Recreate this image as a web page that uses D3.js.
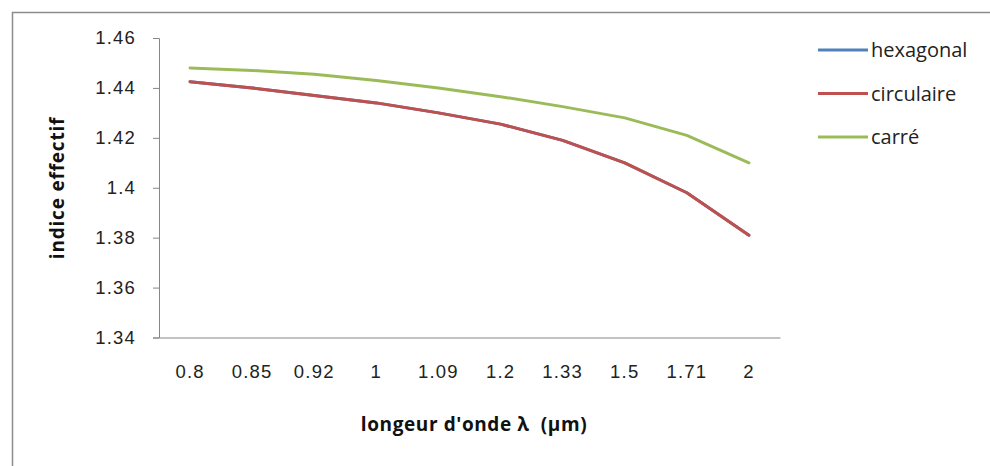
<!DOCTYPE html>
<html>
<head>
<meta charset="utf-8">
<script src="https://cdn.jsdelivr.net/npm/d3@7"></script>
<style>
  html, body { margin: 0; padding: 0; background: #fff; }
  svg { display: block; }
</style>
</head>
<body>
<svg id="chart" width="990" height="466"></svg>
<script>
// Wavelengths (µm) shown as category labels
const categories = ["0.8", "0.85", "0.92", "1", "1.09", "1.2", "1.33", "1.5", "1.71", "2"];
// Effective index per fibre geometry
const hexagonal  = [1.4425, 1.440, 1.437, 1.434, 1.430, 1.4255, 1.419, 1.410, 1.398, 1.381];
const circulaire = [1.4425, 1.440, 1.437, 1.434, 1.430, 1.4255, 1.419, 1.410, 1.398, 1.381];
const carre      = [1.448, 1.447, 1.4455, 1.443, 1.440, 1.4365, 1.4325, 1.428, 1.421, 1.410];
const seriesNames = ["hexagonal", "circulaire", "carré"];
const yTicks = [1.34, 1.36, 1.38, 1.40, 1.42, 1.44, 1.46];

const series = [
  { name: seriesNames[0], values: hexagonal,  color: "#4F81BD" },
  { name: seriesNames[1], values: circulaire, color: "#C0504D" },
  { name: seriesNames[2], values: carre,      color: "#9BBB59" }
];

const svg = d3.select("#chart");
const plot = { left: 159, right: 780, top: 38, bottom: 337.5 };

// outer chart frame
svg.append("path")
  .attr("d", "M12.5,466 L12.5,12.5 L990,12.5")
  .attr("fill", "none")
  .attr("stroke", "#8c8c8c")
  .attr("stroke-width", 1.5);

const x = d3.scaleBand().domain(categories).range([plot.left, plot.right]);
const y = d3.scaleLinear().domain([1.34, 1.46]).range([plot.bottom, plot.top]);

const tickFont = sel => sel
  .attr("font-family", "Liberation Sans, Arial, sans-serif")
  .attr("font-size", 18.5)
  .attr("letter-spacing", "1.2px")
  .attr("fill", "#222");

// y axis
const yAxis = svg.append("g")
  .attr("transform", `translate(${plot.left},0)`)
  .call(d3.axisLeft(y).tickValues(yTicks).tickSize(6).tickPadding(17)
    .tickFormat(d => d3.format("")(+d.toFixed(2))));
yAxis.select(".domain").attr("stroke", "#868686");
yAxis.selectAll(".tick line").attr("stroke", "#868686");
yAxis.selectAll(".tick text").call(tickFont);

// x axis (no tick marks)
const xAxis = svg.append("g")
  .attr("transform", `translate(0,${plot.bottom})`)
  .call(d3.axisBottom(x).tickSize(0).tickPadding(27).tickSizeOuter(0));
xAxis.select(".domain").attr("stroke", "#868686");
xAxis.selectAll(".tick text").call(tickFont);

// series lines
const line = d3.line()
  .x((d, i) => x(categories[i]) + x.bandwidth() / 2)
  .y(d => y(d));

svg.append("g").selectAll("path")
  .data(series)
  .join("path")
  .attr("d", d => line(d.values))
  .attr("fill", "none")
  .attr("stroke", d => d.color)
  .attr("stroke-width", 3)
  .attr("stroke-linejoin", "round")
  .attr("stroke-linecap", "round");

// axis titles
svg.append("text")
  .attr("transform", "translate(64,188) rotate(-90)")
  .attr("text-anchor", "middle")
  .attr("font-family", "Open Sans, Noto Sans, sans-serif")
  .attr("font-weight", "bold")
  .attr("font-size", 19)
  .attr("letter-spacing", "0.8px")
  .attr("fill", "#111")
  .text("indice effectif");

svg.append("text")
  .attr("x", 474).attr("y", 431)
  .attr("text-anchor", "middle")
  .attr("font-family", "Open Sans, Noto Sans, sans-serif")
  .attr("font-weight", "bold")
  .attr("font-size", 19)
  .attr("letter-spacing", "0.6px")
  .style("white-space", "pre")
  .attr("fill", "#111")
  .text("longeur d'onde \u03BB  (\u00B5m)");

// legend
const legend = svg.append("g").attr("transform", "translate(818,50)");
const item = legend.selectAll("g")
  .data(series)
  .join("g")
  .attr("transform", (d, i) => `translate(0,${i * 43.5})`);
item.append("line")
  .attr("x1", 0).attr("x2", 50)
  .attr("stroke", d => d.color)
  .attr("stroke-width", 3);
item.append("text")
  .attr("x", 53).attr("dy", "0.35em")
  .attr("font-family", "Open Sans, Noto Sans, sans-serif")
  .attr("font-size", 20)
  .attr("fill", "#222")
  .text(d => d.name);
</script>
</body>
</html>
